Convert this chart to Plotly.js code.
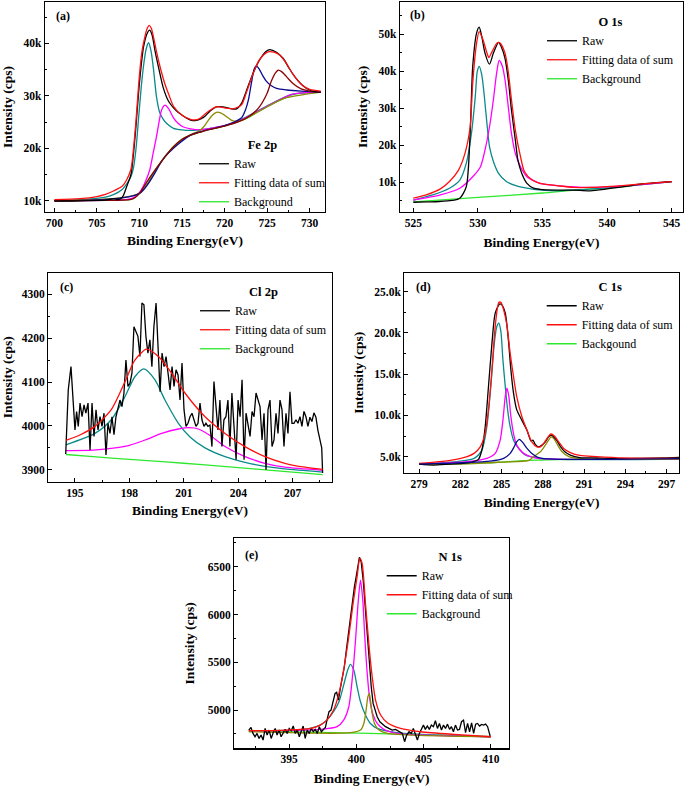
<!DOCTYPE html>
<html>
<head>
<meta charset="utf-8">
<script src="https://cdn.plot.ly/plotly-3.0.1.min.js"></script>
<style>html,body{margin:0;padding:0;background:#fff;}#chart{width:685px;height:787px;}</style>
</head>
<body>
<div id="chart"></div>
<script>
// ---------- (a) Fe 2p ----------
const aRawX = [700, 702, 704, 706, 707, 707.5, 708, 708.5, 709, 709.5, 710, 710.5, 711, 711.2, 711.5, 711.8, 712.3, 712.8, 713.4, 714, 714.5, 715.1, 715.6, 716.1, 716.7, 717.2, 717.7, 718.3, 719.05, 719.8, 720.6, 721.4, 722, 722.6, 723.35, 724.1, 724.9, 725.3, 726.1, 726.9, 727.6, 728.4, 729.2, 730, 730.6, 731.3];
const aRawY = [9950, 9950, 10000, 10100, 10400, 10200, 10700, 12700, 15000, 22500, 32500, 39500, 42200, 42500, 41500, 38800, 35000, 31500, 29000, 27700, 26900, 26200, 25700, 25300, 25300, 25600, 26100, 27100, 27900, 27900, 27600, 27500, 28600, 31100, 34300, 36800, 38500, 38800, 38300, 37100, 35200, 33300, 31900, 31100, 30800, 30700];
const aFitX = [700, 703, 705, 706, 707, 708, 708.5, 709, 709.5, 710, 710.3, 710.6, 710.9, 711.15, 711.4, 711.7, 712.0, 712.5, 713, 713.5, 714, 715, 716, 716.5, 717, 718, 719, 720, 721, 722, 722.6, 723.3, 724, 724.6, 725.2, 725.8, 726.5, 727.2, 728, 729, 730, 731.3];
const aFitY = [10200, 10400, 10800, 11200, 11900, 12800, 14000, 16000, 23500, 34000, 38500, 41000, 42800, 43400, 42800, 40800, 38400, 35000, 32200, 30000, 28000, 26300, 25500, 25400, 25600, 26900, 27900, 27700, 27500, 28300, 30800, 34000, 36600, 37800, 38400, 38300, 37700, 36300, 34200, 32200, 31200, 30900];
const aBgX = [700, 705, 708, 709, 709.5, 710, 711, 712, 713, 714, 715, 716, 717, 718, 720, 722, 723, 724, 725, 726, 727, 728, 729, 730, 731.3];
const aBgY = [10000, 10050, 10100, 10250, 10600, 11400, 13900, 16200, 18400, 20300, 21700, 22500, 23000, 23500, 24200, 25300, 26000, 27000, 27900, 28800, 29500, 30200, 30500, 30600, 30700];
const aTealX = [700, 704, 706, 707, 708, 708.5, 709, 709.3, 709.6, 709.9, 710.2, 710.5, 710.8, 711.07, 711.35, 711.66, 712.0, 712.4, 712.8, 713.2, 714, 715, 716, 717, 718, 720, 722, 725, 728, 731.3];
const aTealY = [10000, 10300, 10700, 11200, 12200, 13200, 14600, 16300, 20000, 25800, 31500, 36000, 39000, 40100, 38600, 34900, 29800, 26700, 25500, 24700, 23800, 23500, 23400, 23500, 23700, 24300, 25500, 28100, 30300, 30700];
const aMagX = [700, 706, 708, 709, 709.5, 710.1, 710.6, 711.2, 711.6, 712.0, 712.3, 712.6, 713.0, 713.4, 714, 714.5, 715.1, 716, 717.1, 718, 720, 722, 725, 728, 731.3];
const aMagY = [10000, 10050, 10150, 10400, 10800, 11800, 13300, 15800, 19000, 22200, 25000, 27300, 28200, 27600, 25800, 24800, 24100, 23700, 23500, 23700, 24300, 25400, 28000, 30300, 30700];
const aOliveX = [700, 710, 712, 714, 716, 717, 717.5, 718, 718.5, 719.05, 719.6, 720, 720.5, 721, 722, 724, 727, 731.3];
const aOliveY = [10000, 11400, 16200, 20300, 22600, 23300, 24000, 25100, 26200, 26850, 26700, 26300, 25700, 25200, 25300, 27000, 29500, 30700];
const aNavyX = [700, 710, 713, 716, 719, 720, 721, 722, 722.5, 722.8, 723.15, 723.5, 723.74, 724.1, 724.5, 724.9, 725.5, 726.1, 727.3, 728, 730, 731.3];
const aNavyY = [10000, 11400, 18400, 22500, 23900, 24300, 24900, 25800, 27500, 29200, 32400, 35200, 35700, 35000, 33800, 32800, 31900, 31400, 31100, 31000, 30800, 30700];
const aMaroonX = [700, 705, 708, 709, 709.5, 710, 711, 712, 713, 714, 715, 716, 717, 718, 720, 722, 723, 724, 725, 725.5, 726, 726.3, 726.7, 727.3, 728, 729, 730, 731.3];
const aMaroonY = [10000, 10050, 10100, 10250, 10600, 11400, 13900, 16200, 18400, 20300, 21700, 22500, 23000, 23500, 24200, 25300, 26200, 27700, 30500, 32800, 34400, 34900, 34600, 33600, 32400, 31300, 30900, 30700];

// ---------- (b) O 1s ----------
const bRawX = [525, 526, 527, 528, 528.6, 529.1, 529.4, 529.6, 529.9, 530.1, 530.3, 530.55, 530.9, 531.2, 531.6, 531.8, 532.1, 532.35, 532.6, 532.9, 533.1, 533.4, 533.8, 534.3, 534.8, 536.1, 537.4, 538.7, 540, 541.3, 542.5, 543.8, 545];
const bRawY = [4600, 4700, 4800, 5100, 5700, 8800, 23200, 41300, 50300, 51900, 49400, 44900, 41900, 44900, 47800, 46700, 43500, 37700, 29500, 21400, 16000, 12400, 9700, 8400, 8100, 7900, 7900, 7700, 8200, 8800, 9500, 9900, 10200];
const bFitX = [525, 526, 527.1, 527.8, 528.5, 529, 529.4, 529.6, 529.9, 530.1, 530.4, 530.7, 530.85, 531.1, 531.5, 531.7, 532.1, 532.35, 532.6, 532.9, 533.3, 533.6, 534.2, 534.8, 536.1, 537.4, 540, 542.5, 545];
const bFitY = [5700, 6600, 8200, 10200, 13300, 17800, 25000, 36800, 47600, 50700, 48500, 44900, 43700, 45300, 47700, 47700, 44900, 39900, 32300, 24100, 16900, 12900, 10600, 9700, 9100, 8600, 8800, 9500, 10200];
const bBgX = [525, 530, 535, 537.5, 540, 542.5, 545];
const bBgY = [4700, 5900, 7100, 7900, 8400, 9300, 10200];
const bTealX = [525, 526.5, 527.8, 528.6, 529.1, 529.5, 529.8, 529.95, 530.1, 530.3, 530.5, 530.7, 530.9, 531.2, 531.6, 532.2, 533, 534.3, 536.1, 537.4, 540, 545];
const bTealY = [5200, 6600, 8400, 10600, 15100, 23200, 33200, 39900, 41300, 39000, 33200, 25900, 19600, 15600, 12400, 10200, 9000, 8100, 7700, 7900, 8500, 10200];
const bMagX = [525, 527.1, 528.6, 529.6, 530.2, 530.55, 530.9, 531.2, 531.45, 531.65, 531.9, 532.1, 532.35, 532.6, 532.9, 533.3, 533.8, 534.8, 536.1, 538.7, 541.3, 545];
const bMagY = [5200, 6600, 8400, 11500, 14200, 18700, 25000, 32300, 39500, 42900, 41300, 37700, 30500, 23200, 17800, 14200, 11500, 9700, 9100, 8600, 9000, 10200];

// ---------- (c) Cl 2p ----------
const cRawX = [194.49, 194.63, 194.78, 194.91, 195.0, 195.09, 195.18, 195.28, 195.39, 195.5, 195.6, 195.72, 195.83, 195.94, 196.05, 196.16, 196.27, 196.38, 196.49, 196.6, 196.71, 196.82, 196.93, 197.04, 197.15, 197.26, 197.37, 197.48, 197.59, 197.7, 197.81, 197.92, 198.03, 198.14, 198.25, 198.36, 198.47, 198.58, 198.69, 198.8, 198.91, 199.02, 199.13, 199.24, 199.35, 199.47, 199.58, 199.69, 199.8, 199.91, 200.02, 200.13, 200.24, 200.35, 200.46, 200.57, 200.68, 200.79, 200.9, 201.01, 201.12, 201.23, 201.34, 201.45, 201.56, 201.67, 201.78, 201.89, 202.0, 202.11, 202.22, 202.33, 202.44, 202.55, 202.66, 202.77, 202.88, 202.99, 203.1, 203.21, 203.32, 203.43, 203.54, 203.65, 203.77, 203.88, 203.99, 204.1, 204.21, 204.32, 204.43, 204.54, 204.65, 204.76, 204.87, 204.98, 205.09, 205.2, 205.31, 205.42, 205.53, 205.64, 205.75, 205.86, 205.97, 206.08, 206.19, 206.3, 206.41, 206.52, 206.63, 206.74, 206.85, 206.96, 207.07, 207.18, 207.29, 207.4, 207.51, 207.62, 207.73, 207.84, 207.95, 208.06, 208.17, 208.28, 208.39, 208.5, 208.6, 208.65];
const cRawY = [3936, 4082, 4135, 4059, 3991, 4033, 3999, 4052, 4021, 4048, 4029, 4052, 3945, 4052, 3976, 4037, 3991, 4021, 3999, 4029, 3934, 4006, 3983, 4021, 3980, 4021, 4044, 4059, 4044, 4075, 4150, 4090, 4097, 4120, 4226, 4215, 4204, 4158, 4280, 4276, 4204, 4166, 4196, 4135, 4226, 4280, 4166, 4078, 4166, 4135, 4158, 4113, 4082, 4135, 4090, 4128, 4116, 4059, 4143, 4037, 3999, 4006, 4021, 4029, 4014, 3999, 4006, 4052, 4014, 3999, 4006, 3999, 4002, 3953, 4101, 4044, 3991, 4059, 3953, 4014, 4021, 4059, 3953, 4075, 3983, 3923, 4059, 4021, 4105, 3923, 4029, 3999, 3976, 4033, 4021, 4075, 4059, 4044, 3968, 4029, 3900, 4037, 4059, 3953, 3968, 4029, 3983, 4059, 4037, 3953, 4029, 3983, 4078, 4006, 4006, 4014, 4006, 4021, 3999, 4033, 4021, 3999, 4020, 4010, 4030, 4020, 3990, 3970, 3950, 3893];
const cFitX = [194.5, 195.3, 196.1, 197.0, 197.76, 198.3, 198.95, 199.6, 200.33, 201.06, 202.17, 203.27, 204.37, 205.47, 206.57, 207.68, 208.65];
const cFitY = [3967, 3980, 3999, 4037, 4101, 4150, 4175, 4158, 4120, 4075, 4021, 3983, 3953, 3930, 3915, 3906, 3901];
const cBgX = [194.5, 196, 198, 200, 202, 204, 206, 208.65];
const cBgY = [3935, 3930, 3924, 3918, 3912, 3905, 3898, 3889];
const cTealX = [194.5, 196.1, 197.0, 197.76, 198.3, 198.8, 199.41, 199.96, 200.7, 201.34, 202.17, 203.27, 204.37, 205.47, 206.57, 208.65];
const cTealY = [3957, 3983, 4014, 4067, 4112, 4130, 4105, 4059, 4006, 3975, 3950, 3930, 3917, 3908, 3902, 3895];
const cMagX = [194.5, 196.0, 197.0, 198.0, 198.86, 199.78, 200.7, 201.3, 201.8, 202.53, 203.27, 204.37, 205.47, 206.57, 208.65];
const cMagY = [3944, 3945, 3949, 3956, 3968, 3983, 3993, 3996, 3993, 3976, 3953, 3930, 3915, 3906, 3899];

// ---------- (d) C 1s ----------
const dRawX = [279, 280.04, 281.26, 282.23, 282.96, 283.32, 283.57, 283.81, 284.05, 284.3, 284.54, 284.85, 285.02, 285.27, 285.5, 285.68, 285.87, 286.1, 286.48, 286.85, 287.14, 287.28, 287.45, 287.7, 287.94, 288.18, 288.42, 288.6, 288.8, 289.0, 289.3, 289.6, 290.0, 290.7, 291.9, 293.4, 295.1, 296.8, 297.9];
const dRawY = [4100, 3990, 4110, 4190, 4400, 4680, 5810, 8600, 13500, 18700, 22400, 23500, 23400, 22400, 19100, 15500, 12700, 10700, 9400, 8200, 6900, 7000, 6500, 6200, 6400, 6800, 7400, 7600, 7400, 7000, 6200, 5600, 5200, 4900, 4840, 4760, 4800, 4840, 4900];
const dFitX = [279, 280.5, 281.7, 282.5, 283, 283.45, 283.8, 284.05, 284.3, 284.54, 284.8, 284.95, 285.15, 285.4, 285.63, 285.87, 286.1, 286.48, 286.85, 287.2, 287.57, 287.82, 288.1, 288.42, 288.6, 288.84, 289.15, 289.52, 290, 290.7, 291.9, 293.9, 297.9];
const dFitY = [4190, 4400, 4680, 5000, 5400, 6200, 7800, 10700, 15500, 20800, 23700, 23700, 22800, 20800, 17500, 14700, 12300, 9850, 8200, 6800, 6200, 6200, 6700, 7500, 7750, 7500, 6800, 6000, 5500, 5150, 5000, 4840, 4800];
const dBgX = [279, 282, 284, 285, 286, 287, 288, 289, 292, 297.9];
const dBgY = [4100, 4150, 4250, 4350, 4450, 4550, 4600, 4650, 4680, 4720];
const dTealX = [279, 281.7, 283, 283.57, 283.93, 284.22, 284.47, 284.66, 284.8, 284.95, 285.1, 285.27, 285.44, 285.63, 285.87, 286.24, 286.72, 287.82, 290.25, 297.9];
const dTealY = [4100, 4400, 4800, 5800, 8600, 13500, 18700, 20800, 21200, 20200, 16700, 13500, 10700, 8600, 7000, 6000, 5200, 4800, 4650, 4720];
const dMagX = [279, 282.5, 283.93, 284.54, 284.9, 285.1, 285.27, 285.39, 285.53, 285.68, 285.87, 286.1, 286.6, 287.33, 289, 297.9];
const dMagY = [4100, 4400, 4800, 5400, 7000, 9400, 12300, 13300, 12300, 9850, 7800, 6400, 5400, 4900, 4700, 4720];
const dNavyX = [279, 284.17, 285.15, 285.63, 285.92, 286.1, 286.3, 286.55, 286.85, 287.2, 287.7, 288.8, 297.9];
const dNavyY = [4100, 4470, 4800, 5400, 6200, 6800, 7100, 6700, 6000, 5400, 4900, 4700, 4760];
const dOliveX = [279, 283, 285, 287, 287.33, 287.82, 288.18, 288.42, 288.6, 288.84, 289.08, 289.4, 289.9, 290.5, 292, 297.9];
const dOliveY = [4100, 4170, 4350, 4560, 5000, 5600, 6400, 7000, 7400, 7100, 6400, 5600, 5000, 4800, 4680, 4720];

// ---------- (e) N 1s ----------
const eRawX = [392.0, 392.16, 392.31, 392.46, 392.61, 392.76, 392.91, 393.06, 393.21, 393.36, 393.51, 393.66, 393.81, 393.96, 394.1, 394.25, 394.4, 394.55, 394.7, 394.85, 395.0, 395.15, 395.3, 395.45, 395.6, 395.75, 395.9, 396.04, 396.19, 396.34, 396.49, 396.64, 396.79, 396.94, 397.09, 397.24, 397.39, 397.54, 397.69, 397.81, 397.96, 398.11, 398.26, 398.41, 398.53, 398.66, 398.8, 398.96, 399.1, 399.25, 399.4, 399.55, 399.7, 399.85, 400.0, 400.12, 400.22, 400.35, 400.5, 400.65, 400.8, 400.95, 401.1, 401.24, 401.4, 401.54, 401.74, 401.94, 402.16, 402.41, 402.66, 402.91, 403.16, 403.41, 403.58, 403.73, 403.91, 404.08, 404.23, 404.38, 404.53, 404.68, 404.83, 404.98, 405.12, 405.27, 405.42, 405.57, 405.72, 405.87, 406.02, 406.17, 406.32, 406.47, 406.62, 406.77, 406.92, 407.06, 407.21, 407.36, 407.51, 407.66, 407.81, 407.96, 408.11, 408.26, 408.41, 408.56, 408.71, 408.86, 409.0, 409.15, 409.3, 409.45, 409.6, 409.75, 409.95];
const eRawY = [4791, 4819, 4756, 4721, 4756, 4703, 4738, 4686, 4808, 4738, 4791, 4703, 4763, 4808, 4738, 4791, 4721, 4756, 4798, 4756, 4808, 4784, 4833, 4756, 4791, 4721, 4773, 4833, 4703, 4791, 4756, 4808, 4773, 4798, 4756, 4826, 4773, 4791, 4819, 4895, 4983, 5000, 5105, 5174, 5185, 5105, 5227, 5349, 5453, 5628, 5802, 5977, 6151, 6291, 6413, 6535, 6598, 6552, 6360, 6081, 5767, 5488, 5244, 5070, 5000, 4930, 4878, 4850, 4826, 4808, 4791, 4798, 4780, 4756, 4669, 4738, 4773, 4756, 4808, 4756, 4686, 4756, 4808, 4843, 4798, 4833, 4798, 4843, 4826, 4888, 4808, 4860, 4791, 4843, 4808, 4853, 4798, 4826, 4773, 4843, 4791, 4798, 4878, 4895, 4763, 4860, 4773, 4867, 4756, 4853, 4860, 4833, 4850, 4843, 4853, 4826, 4721];
const eFitX = [392, 394.8, 396.6, 397.3, 397.8, 398.3, 398.7, 399.05, 399.43, 399.75, 400.05, 400.25, 400.42, 400.67, 400.92, 401.17, 401.42, 401.8, 402.3, 403.28, 404.78, 407.26, 410];
const eFitY = [4784, 4791, 4808, 4843, 4895, 5000, 5174, 5419, 5767, 6116, 6395, 6587, 6535, 6116, 5698, 5349, 5105, 4948, 4867, 4808, 4773, 4745, 4721];
const eBgX = [392, 397.8, 401, 405, 410];
const eBgY = [4780, 4766, 4756, 4740, 4721];
const eTealX = [392, 396.07, 397.3, 397.8, 398.3, 398.7, 399.05, 399.35, 399.55, 399.8, 400.05, 400.3, 400.67, 401.04, 401.54, 402.3, 403.53, 410];
const eTealY = [4784, 4798, 4843, 4895, 4983, 5087, 5262, 5419, 5478, 5419, 5244, 5087, 4948, 4860, 4808, 4780, 4756, 4721];
const eMagX = [392, 397.3, 398.56, 399.05, 399.43, 399.75, 399.95, 400.12, 400.3, 400.47, 400.62, 400.8, 401.0, 401.24, 401.54, 402.04, 403.03, 410];
const eMagY = [4780, 4798, 4826, 4895, 5035, 5419, 5767, 6116, 6360, 6151, 5767, 5384, 5105, 4948, 4860, 4798, 4756, 4721];
const eOliveX = [392, 399.55, 400.3, 400.55, 400.72, 400.85, 400.95, 401.04, 401.17, 401.34, 401.67, 402.3, 410];
const eOliveY = [4773, 4763, 4791, 4860, 5000, 5140, 5174, 5105, 4965, 4860, 4791, 4756, 4721];

// ---------- labels ----------
const panelLabels = ['(a)', '(b)', '(c)', '(d)', '(e)'];
const elementNames = ['Fe 2p', 'O 1s', 'Cl 2p', 'C 1s', 'N 1s'];
const legendNames = ['Raw', 'Fitting data of sum', 'Background'];
const legendNamesD = ['Raw', 'Fitting data of sum', 'Backgound'];
const xTitle = 'Binding Energy(eV)';
const yTitle = 'Intensity (cps)';
const kAlias = {'5k': '5.0k', '10k': '10.0k', '15k': '15.0k', '20k': '20.0k', '25k': '25.0k'};

// ---------- styling ----------
const FONT = 'Liberation Serif';
const C = {raw: '#000000', fit: '#ff1010', bg: '#2ee82e', teal: '#0a8a8a', mag: '#ff00ff', navy: '#0a0a90', olive: '#8c8a00', maroon: '#8b0000'};
const W = 685, H = 787;

function line(x, y, color, idx, name, legend, smooth, rank) {
  const s = idx === 1 ? '' : String(idx);
  return {
    x: x, y: y, type: 'scatter', mode: 'lines',
    xaxis: 'x' + s, yaxis: 'y' + s,
    line: {color: color, width: 1.3, shape: smooth ? 'spline' : 'linear', smoothing: 0.7},
    name: name || '', showlegend: !!name, legend: legend,
    legendrank: rank || 1000,
    hoverinfo: 'skip'
  };
}

const lg = ['legend', 'legend2', 'legend3', 'legend4', 'legend5'];
const traces = [
  // (a)
  line(aBgX, aBgY, C.bg, 1, legendNames[2], lg[0], true, 3),
  line(aTealX, aTealY, C.teal, 1, null, lg[0], true),
  line(aMagX, aMagY, C.mag, 1, null, lg[0], true),
  line(aOliveX, aOliveY, C.olive, 1, null, lg[0], true),
  line(aNavyX, aNavyY, C.navy, 1, null, lg[0], true),
  line(aMaroonX, aMaroonY, C.maroon, 1, null, lg[0], true),
  line(aRawX, aRawY, C.raw, 1, legendNames[0], lg[0], true, 1),
  line(aFitX, aFitY, C.fit, 1, legendNames[1], lg[0], true, 2),
  // (b)
  line(bBgX, bBgY, C.bg, 2, legendNames[2], lg[1], true, 3),
  line(bTealX, bTealY, C.teal, 2, null, lg[1], true),
  line(bMagX, bMagY, C.mag, 2, null, lg[1], true),
  line(bRawX, bRawY, C.raw, 2, legendNames[0], lg[1], true, 1),
  line(bFitX, bFitY, C.fit, 2, legendNames[1], lg[1], true, 2),
  // (c)
  line(cBgX, cBgY, C.bg, 3, legendNames[2], lg[2], true, 3),
  line(cTealX, cTealY, C.teal, 3, null, lg[2], true),
  line(cMagX, cMagY, C.mag, 3, null, lg[2], true),
  line(cRawX, cRawY, C.raw, 3, legendNames[0], lg[2], false, 1),
  line(cFitX, cFitY, C.fit, 3, legendNames[1], lg[2], true, 2),
  // (d)
  line(dBgX, dBgY, C.bg, 4, legendNamesD[2], lg[3], true, 3),
  line(dTealX, dTealY, C.teal, 4, null, lg[3], true),
  line(dMagX, dMagY, C.mag, 4, null, lg[3], true),
  line(dOliveX, dOliveY, C.olive, 4, null, lg[3], true),
  line(dRawX, dRawY, C.raw, 4, legendNamesD[0], lg[3], true, 1),
  line(dFitX, dFitY, C.fit, 4, legendNamesD[1], lg[3], true, 2),
  line(dNavyX, dNavyY, C.navy, 4, null, lg[3], true),
  // (e)
  line(eBgX, eBgY, C.bg, 5, legendNames[2], lg[4], false, 3),
  line(eTealX, eTealY, C.teal, 5, null, lg[4], true),
  line(eMagX, eMagY, C.mag, 5, null, lg[4], true),
  line(eOliveX, eOliveY, C.olive, 5, null, lg[4], true),
  line(eRawX, eRawY, C.raw, 5, legendNames[0], lg[4], false, 1),
  line(eFitX, eFitY, C.fit, 5, legendNames[1], lg[4], true, 2)
];

// pixel boxes [left, right, top, bottom]
const boxes = [
  [45, 325, 2, 212],
  [400, 683, 2, 211.7],
  [48.3, 331.7, 272.7, 481.7],
  [404.3, 679, 272.7, 472.7],
  [234.3, 509, 538.3, 748.3]
];
const xRanges = [[698.9, 731.8], [523.97, 545.88], [193.53, 209.15], [277.93, 297.9], [390.92, 411.34]];
const yRanges = [[7850, 47870], [2050, 58700], [3873, 4349], [3060, 27300], [4600, 6797]];
const xTicks = [[700, 5], [525, 5], [195, 3], [279, 3], [395, 5]];
const yTicks = [[10000, 10000], [10000, 10000], [3900, 100], [5000, 5000], [5000, 500]];
const yFormats = ['~s', '~s', 'd', '~s', 'd'];

const tickFont = {family: FONT, size: 11.5, color: '#000', weight: 'bold'};
const titleFont = {family: FONT, size: 13.5, color: '#000', weight: 'bold'};

const layout = {
  width: W, height: H,
  margin: {l: 0, r: 0, t: 0, b: 0},
  paper_bgcolor: '#fff', plot_bgcolor: '#fff',
  font: {family: FONT, color: '#000'},
  showlegend: true,
  annotations: []
};

const ystandoff = [20, 7, 12, 7, 10];
const xstandoff = [7, 9, 7, 8, 9];
boxes.forEach((b, i) => {
  const s = i === 0 ? '' : String(i + 1);
  const xa = {
    domain: [b[0] / W, b[1] / W],
    range: xRanges[i],
    anchor: 'y' + s,
    showline: true, linecolor: '#000', linewidth: 1.2, mirror: true,
    showgrid: false, zeroline: false,
    ticks: 'inside', ticklen: 4, tickwidth: 1, tickcolor: '#000',
    tickmode: 'linear', tick0: xTicks[i][0], dtick: xTicks[i][1],
    minor: {ticks: 'inside', ticklen: 2, tickcolor: '#000', dtick: xTicks[i][1] / 2, tick0: xTicks[i][0], showgrid: false},
    tickfont: tickFont,
    title: {text: xTitle, font: titleFont, standoff: xstandoff[i]},
    automargin: false
  };
  const ya = {
    domain: [1 - b[3] / H, 1 - b[2] / H],
    range: yRanges[i],
    anchor: 'x' + s,
    showline: true, linecolor: '#000', linewidth: 1.2, mirror: true,
    showgrid: false, zeroline: false,
    ticks: 'inside', ticklen: 4, tickwidth: 1, tickcolor: '#000',
    tickmode: 'linear', tick0: yTicks[i][0], dtick: yTicks[i][1],
    minor: {ticks: 'inside', ticklen: 2, tickcolor: '#000', dtick: yTicks[i][1] / 2, tick0: yTicks[i][0], showgrid: false},
    tickformat: yFormats[i],
    tickfont: tickFont,
    title: {text: yTitle, font: titleFont, standoff: ystandoff[i]},
    automargin: false
  };
  if (i === 3) ya.labelalias = kAlias;
  layout['xaxis' + s] = xa;
  layout['yaxis' + s] = ya;
});

// panel letters
const letterPos = [[0.032, 0.933], [0.028, 0.938], [0.034, 0.932], [0.035, 0.93], [0.032, 0.92]];
panelLabels.forEach((t, i) => {
  const s = i === 0 ? '' : String(i + 1);
  layout.annotations.push({
    text: t, xref: 'x' + s + ' domain', yref: 'y' + s + ' domain',
    x: letterPos[i][0], y: letterPos[i][1], xanchor: 'left', yanchor: 'middle',
    showarrow: false, font: {family: FONT, size: 12, color: '#000', weight: 'bold'}
  });
});

// legends (paper coordinates from pixel positions)
const legendPix = [[194, 133], [542, 10], [195, 280], [541.7, 275], [381.7, 545]];
legendPix.forEach((p, i) => {
  layout[lg[i]] = {
    x: p[0] / W, y: 1 - p[1] / H, xanchor: 'left', yanchor: 'top',
    bgcolor: 'rgba(0,0,0,0)', borderwidth: 0,
    font: {family: FONT, size: 12, color: '#000'},
    title: {text: elementNames[i], side: 'top center', font: {family: FONT, size: 12.5, color: '#000', weight: 'bold'}},
    itemwidth: 30, tracegroupgap: 0, traceorder: 'normal'
  };
});

Plotly.newPlot('chart', traces, layout, {staticPlot: true, displayModeBar: false});
</script>
</body>
</html>
